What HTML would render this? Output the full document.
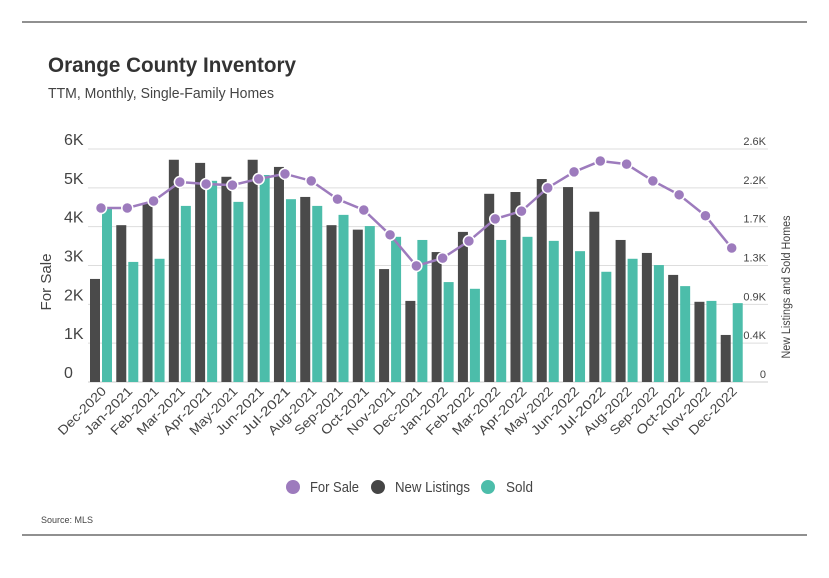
<!DOCTYPE html>
<html><head><meta charset="utf-8"><style>
body{margin:0;background:#fff;font-family:"Liberation Sans",sans-serif;}
svg text{font-family:"Liberation Sans",sans-serif;}
</style></head><body>
<svg id="chart" width="829" height="573" xmlns="http://www.w3.org/2000/svg">
<line x1="22" y1="22" x2="807" y2="22" stroke="#222" stroke-width="1"/>
<line x1="22" y1="535" x2="807" y2="535" stroke="#222" stroke-width="1"/>
<text x="48" y="72" font-size="21" font-weight="bold" fill="#333" textLength="248" lengthAdjust="spacingAndGlyphs">Orange County Inventory</text>
<text x="48" y="98" font-size="14.5" fill="#444" textLength="226" lengthAdjust="spacingAndGlyphs">TTM, Monthly, Single-Family Homes</text>
<text x="41" y="523" font-size="9" fill="#444">Source: MLS</text>
<g id="grid"></g><g id="bars"></g><g id="line"></g><g id="axes"></g>
<text transform="translate(51,282) rotate(-90)" text-anchor="middle" font-size="15" fill="#444" textLength="57" lengthAdjust="spacingAndGlyphs">For Sale</text>
<text transform="translate(790,287) rotate(-90)" text-anchor="middle" font-size="11.5" fill="#444" textLength="143" lengthAdjust="spacingAndGlyphs">New Listings and Sold Homes</text>
<g>
<g><circle cx="293" cy="487" r="7" fill="#9d7bbd"/><text x="310" y="492" font-size="15" fill="#444" textLength="49" lengthAdjust="spacingAndGlyphs">For Sale</text></g>
<g><circle cx="378" cy="487" r="7" fill="#454545"/><text x="395" y="492" font-size="15" fill="#444" textLength="75" lengthAdjust="spacingAndGlyphs">New Listings</text></g>
<g><circle cx="488" cy="487" r="7" fill="#4cbdaa"/><text x="506" y="492" font-size="15" fill="#444" textLength="27" lengthAdjust="spacingAndGlyphs">Sold</text></g>
</g>
</svg>
<script>
const categories=["Dec-2020","Jan-2021","Feb-2021","Mar-2021","Apr-2021","May-2021","Jun-2021","Jul-2021","Aug-2021","Sep-2021","Oct-2021","Nov-2021","Dec-2021","Jan-2022","Feb-2022","Mar-2022","Apr-2022","May-2022","Jun-2022","Jul-2022","Aug-2022","Sep-2022","Oct-2022","Nov-2022","Dec-2022"];
const newListings=[1150,1750,2000,2480,2445,2290,2480,2400,2065,1750,1700,1260,905,1450,1675,2100,2120,2265,2175,1900,1585,1440,1195,895,525];
const sold=[1940,1340,1375,1965,2245,2010,2310,2040,1965,1865,1740,1620,1585,1115,1040,1585,1620,1575,1460,1230,1375,1305,1070,905,880];
const forSale=[4480,4480,4660,5150,5100,5070,5230,5360,5180,4710,4430,3790,2990,3190,3630,4200,4400,5000,5410,5690,5610,5180,4820,4280,3450];
const leftTicks=["0","1K","2K","3K","4K","5K","6K"];
const rightTicks=["0","0.4K","0.9K","1.3K","1.7K","2.2K","2.6K"];
const NS="http://www.w3.org/2000/svg";
const y0=382,yTop=149,leftMax=6000,rightMax=2600;
const yL=v=>y0-(v/leftMax)*(y0-yTop);
const yR=v=>y0-(v/rightMax)*(y0-yTop);
const x0=90,pitch=26.28;
const xg=i=>x0+i*pitch;
function mk(tag,attrs,parent){const e=document.createElementNS(NS,tag);for(const k in attrs)e.setAttribute(k,attrs[k]);document.getElementById(parent).appendChild(e);return e;}
for(let k=0;k<=6;k++){
 const y=y0-k*(y0-yTop)/6;
 const g=mk('line',{x1:88,x2:768,y1:y,y2:y,stroke:k==0?'#ccc':'#ddd','stroke-width':1},'grid');
 
 
 const t=mk('text',{x:64,y:y-4,'font-size':16,fill:'#444'},'axes');t.textContent=leftTicks[k];
 
 
 const r=mk('text',{x:766,y:y-4,'text-anchor':'end','font-size':11,fill:'#444'},'axes');r.textContent=rightTicks[k];
 
 
}
categories.forEach((c,i)=>{
 const x=xg(i);
 const b=mk('rect',{x:x,y:yR(newListings[i]),width:10,height:y0-yR(newListings[i]),fill:'#4a4a4a'},'bars');
 
 
 const s=mk('rect',{x:x+12,y:yR(sold[i]),width:10,height:y0-yR(sold[i]),fill:'#4cbdaa'},'bars');
 
 
 const t=mk('text',{transform:`translate(${x+17},${y0+10}) rotate(-45)`,'text-anchor':'end','font-size':13,fill:'#444',textLength:62,lengthAdjust:'spacingAndGlyphs'},'axes');
 t.textContent=c;
 
 
});
const pts=forSale.map((v,i)=>[xg(i)+11,yL(v)]);
const pl=mk('polyline',{points:pts.map(p=>p.join(',')).join(' '),fill:'none',stroke:'#9d7bbd','stroke-width':2.5},'line');


pts.forEach(p=>{
 const c=mk('circle',{cx:p[0],cy:p[1],r:5.5,fill:'#9d7bbd',stroke:'#fff','stroke-width':1.5},'line');
 
 
});
</script>
</body></html>
